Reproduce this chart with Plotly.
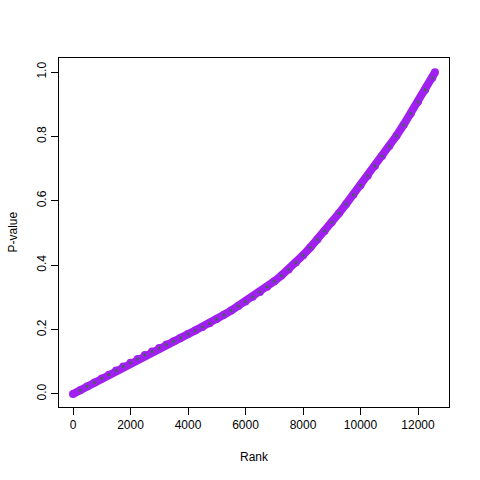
import plotly.graph_objects as go

rank = [0, 250, 500, 750, 1000, 1250, 1500, 1750, 2000, 2250, 2500, 2750, 3000, 3250, 3500,
        3750, 4000, 4250, 4500, 4750, 5000, 5250, 5500, 5750, 6000, 6250, 6500, 6750, 7000,
        7250, 7500, 7750, 8000, 8250, 8500, 8750, 9000, 9250, 9500, 9750, 10000, 10250, 10500,
        10750, 11000, 11250, 11500, 11750, 12000, 12250, 12500, 12590]
pvalue = [0.000, 0.012, 0.024, 0.036, 0.048, 0.060, 0.073, 0.085, 0.097, 0.109, 0.121, 0.132,
          0.143, 0.154, 0.164, 0.175, 0.186, 0.197, 0.208, 0.220, 0.233, 0.246, 0.259, 0.273,
          0.287, 0.302, 0.317, 0.333, 0.350, 0.368, 0.387, 0.408, 0.431, 0.455, 0.480, 0.506,
          0.533, 0.561, 0.590, 0.619, 0.648, 0.678, 0.708, 0.739, 0.770, 0.802, 0.836, 0.871,
          0.908, 0.945, 0.982, 0.999]

x_ticks = [0, 2000, 4000, 6000, 8000, 10000, 12000]
x_tick_labels = ["0", "2000", "4000", "6000", "8000", "10000", "12000"]
y_ticks = [0.0, 0.2, 0.4, 0.6, 0.8, 1.0]
y_tick_labels = ["0.0", "0.2", "0.4", "0.6", "0.8", "1.0"]

PURPLE = "#A020F0"
GREEN = "#1E7A1E"
FONT = "Liberation Sans, Arial, sans-serif"

fig = go.Figure()
fig.add_trace(go.Scatter(
    x=rank, y=pvalue, mode="lines+markers",
    line=dict(color=PURPLE, width=8),
    marker=dict(color=PURPLE, size=8),
    hoverinfo="skip", showlegend=False,
))
fig.add_trace(go.Scatter(
    x=rank[1:-1], y=pvalue[1:-1], mode="markers",
    marker=dict(color=GREEN, size=3, opacity=0.7),
    hoverinfo="skip", showlegend=False,
))

axis_common = dict(
    showgrid=False, zeroline=False, showline=True, linecolor="black", linewidth=1,
    mirror=True, ticks="outside", ticklen=7, tickcolor="black", tickwidth=1,
    tickfont=dict(family=FONT, size=12, color="black"),
)
fig.update_xaxes(range=[-487, 13078], tickvals=x_ticks, ticktext=x_tick_labels, **axis_common)
fig.update_yaxes(range=[-0.0404, 1.0435], tickvals=y_ticks, ticktext=y_tick_labels,
                 tickangle=-90, **axis_common)

fig.add_annotation(text="Rank", xref="paper", yref="paper", x=0.5, y=0,
                   yanchor="middle", yshift=-50, showarrow=False,
                   font=dict(family=FONT, size=12, color="black"))
fig.add_annotation(text="P-value", xref="paper", yref="paper", x=0, y=0.5,
                   xanchor="center", xshift=-47, textangle=-90, showarrow=False,
                   font=dict(family=FONT, size=12, color="black"))

fig.update_layout(
    width=480, height=480,
    margin=dict(l=59, r=31, t=58, b=73),
    paper_bgcolor="white", plot_bgcolor="white",
)
fig.write_html("out.html", config={"displayModeBar": False, "staticPlot": True})

with open("out.html", "r", encoding="utf-8") as f:
    html = f.read()
html = html.replace("<head>", "<head><style>html,body{margin:0;padding:0;}</style>", 1)
with open("out.html", "w", encoding="utf-8") as f:
    f.write(html)
